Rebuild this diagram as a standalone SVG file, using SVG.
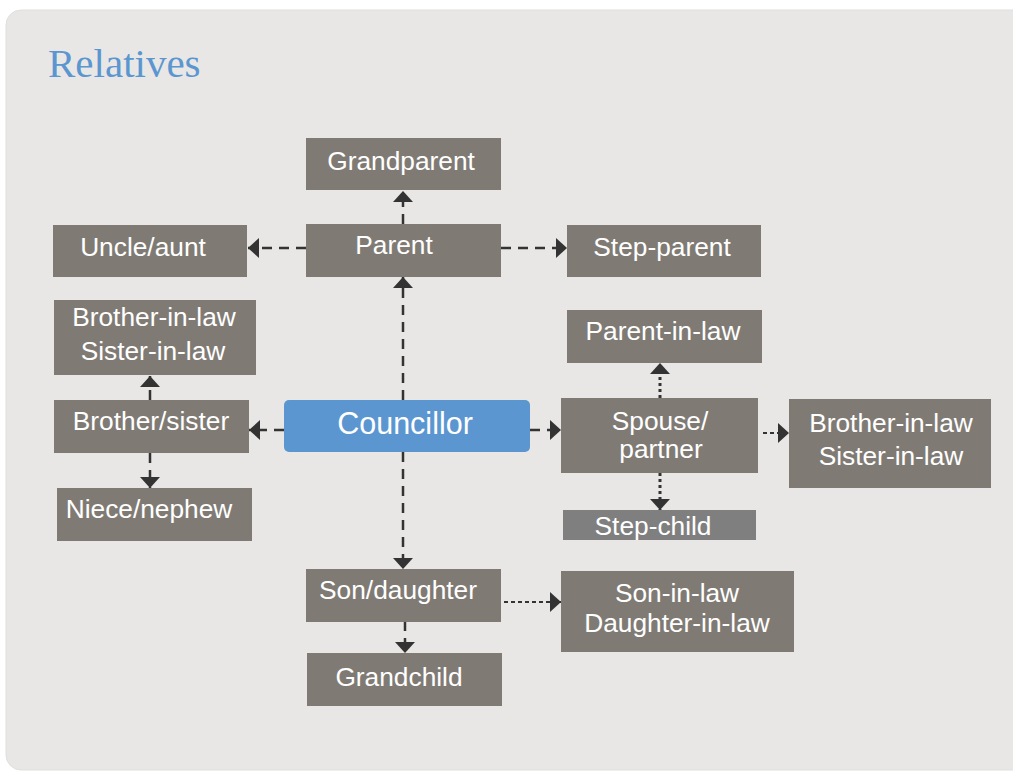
<svg xmlns="http://www.w3.org/2000/svg" width="1013" height="771" viewBox="0 0 1013 771">
<defs>
<style>
.node{fill:#7f7b74}
.t{font-family:"Liberation Sans",Arial,sans-serif;font-size:26.3px;fill:#ffffff;text-anchor:middle}
.dash{stroke:#333333;stroke-width:2.5;stroke-dasharray:10 7;fill:none}
.dot{stroke:#333333;stroke-width:3;stroke-dasharray:3 3;fill:none}
.sdot{stroke:#333333;stroke-width:2.2;stroke-dasharray:4 3;fill:none}
</style>
<marker id="ah" viewBox="0 0 11 20" markerWidth="11" markerHeight="20" refX="11" refY="10" orient="auto" markerUnits="userSpaceOnUse">
<path d="M0,0 L11,10 L0,20 z" fill="#333333"/>
</marker>
</defs>
<rect x="0" y="0" width="1013" height="771" fill="#ffffff"/>
<rect x="6" y="10" width="1030" height="760" rx="15" fill="#e8e7e5" stroke="#e0dfdd" stroke-width="1"/>
<text x="48" y="77" font-family="'Liberation Serif','Times New Roman',serif" font-size="41" fill="#5b96d0">Relatives</text>

<g id="connectors">
<line class="dash" x1="403" y1="224" x2="403" y2="191" marker-end="url(#ah)"/>
<line class="dash" x1="306" y1="248" x2="248" y2="248" marker-end="url(#ah)"/>
<line class="dash" x1="501" y1="248" x2="567" y2="248" marker-end="url(#ah)"/>
<line class="dash" x1="403" y1="400" x2="403" y2="277" marker-end="url(#ah)"/>
<line class="dash" x1="284" y1="430" x2="249" y2="430" marker-end="url(#ah)"/>
<line class="dash" x1="530" y1="430" x2="561" y2="430" marker-end="url(#ah)"/>
<line class="dash" x1="403" y1="452" x2="403" y2="569" marker-end="url(#ah)"/>
<line class="dash" x1="150" y1="400" x2="150" y2="376" marker-end="url(#ah)"/>
<line class="dash" x1="150" y1="453" x2="150" y2="488" marker-end="url(#ah)"/>
<line class="dot" x1="660" y1="398" x2="660" y2="363" marker-end="url(#ah)"/>
<line class="dot" x1="660" y1="473" x2="660" y2="510" marker-end="url(#ah)"/>
<line class="sdot" x1="763" y1="433" x2="789" y2="433" marker-end="url(#ah)"/>
<line class="sdot" x1="504" y1="602" x2="561" y2="602" marker-end="url(#ah)"/>
<line class="dash" x1="405" y1="621" x2="405" y2="653" marker-end="url(#ah)"/>
</g>

<g id="grandparent"><rect class="node" x="306" y="138" width="195" height="52"/><text class="t" x="401" y="170">Grandparent</text></g>
<g id="parent"><rect class="node" x="306" y="224" width="195" height="53"/><text class="t" x="394" y="254">Parent</text></g>
<g id="uncle-aunt"><rect class="node" x="53" y="225" width="194" height="52"/><text class="t" x="143" y="256">Uncle/aunt</text></g>
<g id="step-parent"><rect class="node" x="567" y="225" width="194" height="52"/><text class="t" x="662" y="256">Step-parent</text></g>
<g id="sibling-in-law-left"><rect class="node" x="54" y="300" width="202" height="75"/><text class="t" x="154" y="326">Brother-in-law</text><text class="t" x="153" y="360">Sister-in-law</text></g>
<g id="brother-sister"><rect class="node" x="54" y="400" width="195" height="53"/><text class="t" x="151" y="430">Brother/sister</text></g>
<g id="niece-nephew"><rect class="node" x="57" y="488" width="195" height="53"/><text class="t" x="149" y="518">Niece/nephew</text></g>
<g id="councillor"><rect x="284" y="400" width="246" height="52" rx="5" fill="#5b96d1"/><text x="405" y="434" font-family="'Liberation Sans',Arial,sans-serif" font-size="30.5" fill="#ffffff" text-anchor="middle">Councillor</text></g>
<g id="spouse-partner"><rect class="node" x="561" y="398" width="197" height="75"/><text class="t" x="660" y="430">Spouse/</text><text class="t" x="661" y="458">partner</text></g>
<g id="parent-in-law"><rect class="node" x="567" y="310" width="195" height="53"/><text class="t" x="663" y="340">Parent-in-law</text></g>
<g id="sibling-in-law-right"><rect class="node" x="789" y="399" width="202" height="89"/><text class="t" x="891" y="432">Brother-in-law</text><text class="t" x="891" y="465">Sister-in-law</text></g>
<g id="step-child"><rect x="563" y="510" width="193" height="30" fill="#7f7f7f"/><text class="t" x="653" y="535">Step-child</text></g>
<g id="son-daughter"><rect class="node" x="306" y="569" width="195" height="53"/><text class="t" x="398" y="599">Son/daughter</text></g>
<g id="child-in-law"><rect class="node" x="561" y="571" width="233" height="81"/><text class="t" x="677" y="602">Son-in-law</text><text class="t" x="677" y="632">Daughter-in-law</text></g>
<g id="grandchild"><rect class="node" x="307" y="653" width="195" height="53"/><text class="t" x="399" y="686">Grandchild</text></g>
</svg>
